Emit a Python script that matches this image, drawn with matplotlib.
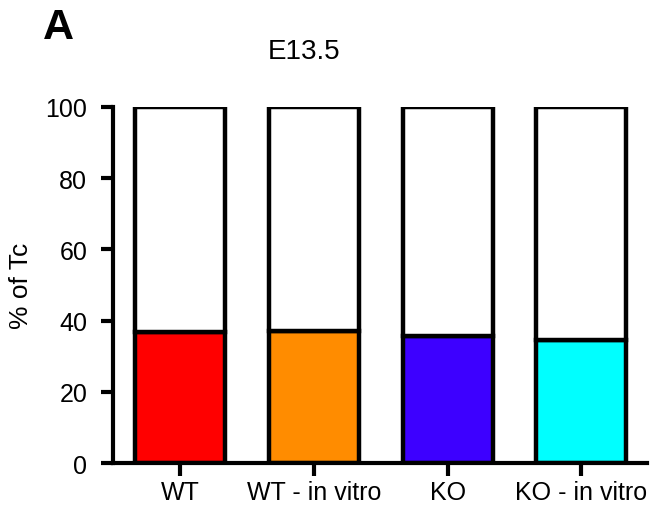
import matplotlib.pyplot as plt
import numpy as np

plt.rcParams['font.family'] = ['Liberation Sans', 'DejaVu Sans']

groups = ['WT', 'WT - in vitro', 'KO', 'KO - in vitro']
tc_pct = [36.7, 37.0, 35.8, 34.5]
colors = ['#ff0000', '#ff8c00', '#3d00ff', '#00ffff']

rest = [100 - v for v in tc_pct]
x = np.arange(len(groups))

fig = plt.figure(figsize=(6.53, 5.06), dpi=100)
ax = fig.add_axes([0.173, 0.083, 0.8178, 0.7036])

ax.bar(x, tc_pct, width=0.673, color=colors, edgecolor='black', linewidth=3.2, zorder=2)
ax.bar(x, rest, bottom=tc_pct, width=0.673, color='white', edgecolor='black', linewidth=3.2, zorder=2)

ax.set_xlim(-0.5, 3.49)
ax.set_ylim(0, 100)
ax.set_yticks([0, 20, 40, 60, 80, 100])
ax.set_xticks(x)
ax.set_xticklabels(groups)
ax.set_ylabel('% of Tc', fontsize=19)
ax.yaxis.set_label_coords(-0.15, 0.5)

for side in ['top', 'right']:
    ax.spines[side].set_visible(False)
for side in ['left', 'bottom']:
    ax.spines[side].set_linewidth(3)
ax.tick_params(axis='both', direction='out', width=3, length=9, labelsize=18)
ax.tick_params(axis='y', pad=9.5)
ax.tick_params(axis='x', pad=3)

fig.text(0.4655, 0.897, 'E13.5', fontsize=20, ha='center', va='center')
fig.text(0.089, 0.945, 'A', fontsize=31, fontweight='bold', ha='center', va='center')

fig.savefig('out.png', dpi=100)
